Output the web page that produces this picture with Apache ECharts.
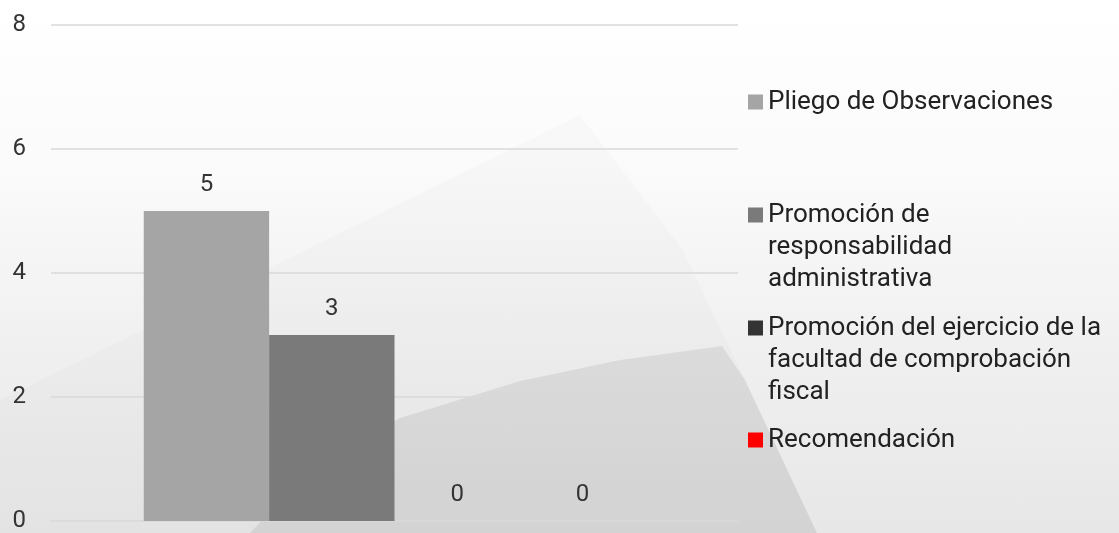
<!DOCTYPE html>
<html>
<head>
<meta charset="utf-8">
<script src="https://cdn.jsdelivr.net/npm/echarts@6/dist/echarts.min.js"></script>
<style>
  html, body { margin: 0; padding: 0; }
  #main {
    width: 1119px; height: 533px;
    background: linear-gradient(180deg, #ffffff 0%, #fbfbfb 30%, #f0f0f0 65%, #e7e7e7 100%);
  }
</style>
</head>
<body>
<div id="main"></div>
<script>
// datos
var categorias = [''];
var series = ['Pliego de Observaciones', 'Promoción de responsabilidad administrativa',
  'Promoción del ejercicio de la facultad de comprobación fiscal', 'Recomendación'];
var valores = [5, 3, 0, 0];
var colores = ['#a5a5a5', '#7a7a7a', '#333333', '#ff0000'];
var etiquetas = {
  'Pliego de Observaciones': ['Pliego de Observaciones'],
  'Promoción de responsabilidad administrativa': ['Promoción de', 'responsabilidad', 'administrativa'],
  'Promoción del ejercicio de la facultad de comprobación fiscal': ['Promoción del ejercicio de la', 'facultad de comprobación', 'fiscal'],
  'Recomendación': ['Recomendación']
};

var chart = echarts.init(document.getElementById('main'));

var serieList = series.map(function (s, i) {
  return {
    name: s,
    type: 'bar',
    data: [valores[i]],
    barGap: 0,
    barCategoryGap: '27%',
    itemStyle: { color: colores[i] },
    label: {
      show: true,
      position: 'top',
      distance: 14,
      fontSize: 24,
      fontFamily: 'Roboto',
      color: '#333'
    }
  };
});

// una leyenda por elemento; lineas vacias arriba para que el icono quede en la primera linea
var topLeyenda = [86, 135, 248, 424];
var leyendas = series.map(function (s, i) {
  return {
    orient: 'vertical',
    left: 748,
    top: topLeyenda[i],
    padding: 0,
    itemWidth: 15,
    itemHeight: 15,
    itemGap: 7,
    icon: 'rect',
    data: [s],
    formatter: function (n) {
      var l = etiquetas[n];
      var relleno = '';
      for (var k = 1; k < l.length; k++) relleno += ' \n';
      return relleno + l.join('\n');
    },
    textStyle: {
      fontSize: 26,
      fontFamily: 'Roboto',
      color: '#222',
      lineHeight: 32
    }
  };
});

var option = {
  textStyle: { fontFamily: 'Roboto' },
  graphic: [
    // fondo decorativo
    {
      type: 'polygon', silent: true, z: -10,
      shape: { points: [[580, 115], [0, 400], [0, 533], [817, 533], [745, 380], [683, 250]] },
      style: { fill: 'rgba(0,0,0,0.015)' }
    },
    {
      type: 'polygon', silent: true, z: -10,
      shape: {
        points: [[250, 533], [310, 470], [400, 418], [520, 381], [620, 360], [722, 346],
          [745, 380], [817, 533]]
      },
      style: { fill: 'rgba(0,0,0,0.075)' }
    }
  ],
  grid: {
    left: 51,
    top: 25,
    width: 687,
    height: 500.5,
    containLabel: false
  },
  legend: leyendas,
  xAxis: {
    type: 'category',
    data: categorias,
    axisLine: { show: false },
    axisTick: { show: false },
    axisLabel: { show: false }
  },
  yAxis: {
    type: 'value',
    min: 0,
    max: 8,
    interval: 2,
    axisLine: { show: false },
    axisTick: { show: false },
    axisLabel: {
      margin: 25,
      fontSize: 24,
      fontFamily: 'Roboto',
      color: '#333'
    },
    splitLine: { lineStyle: { color: '#d9d9d9', width: 1.5 } }
  },
  series: serieList
};

chart.setOption(option);
</script>
</body>
</html>
